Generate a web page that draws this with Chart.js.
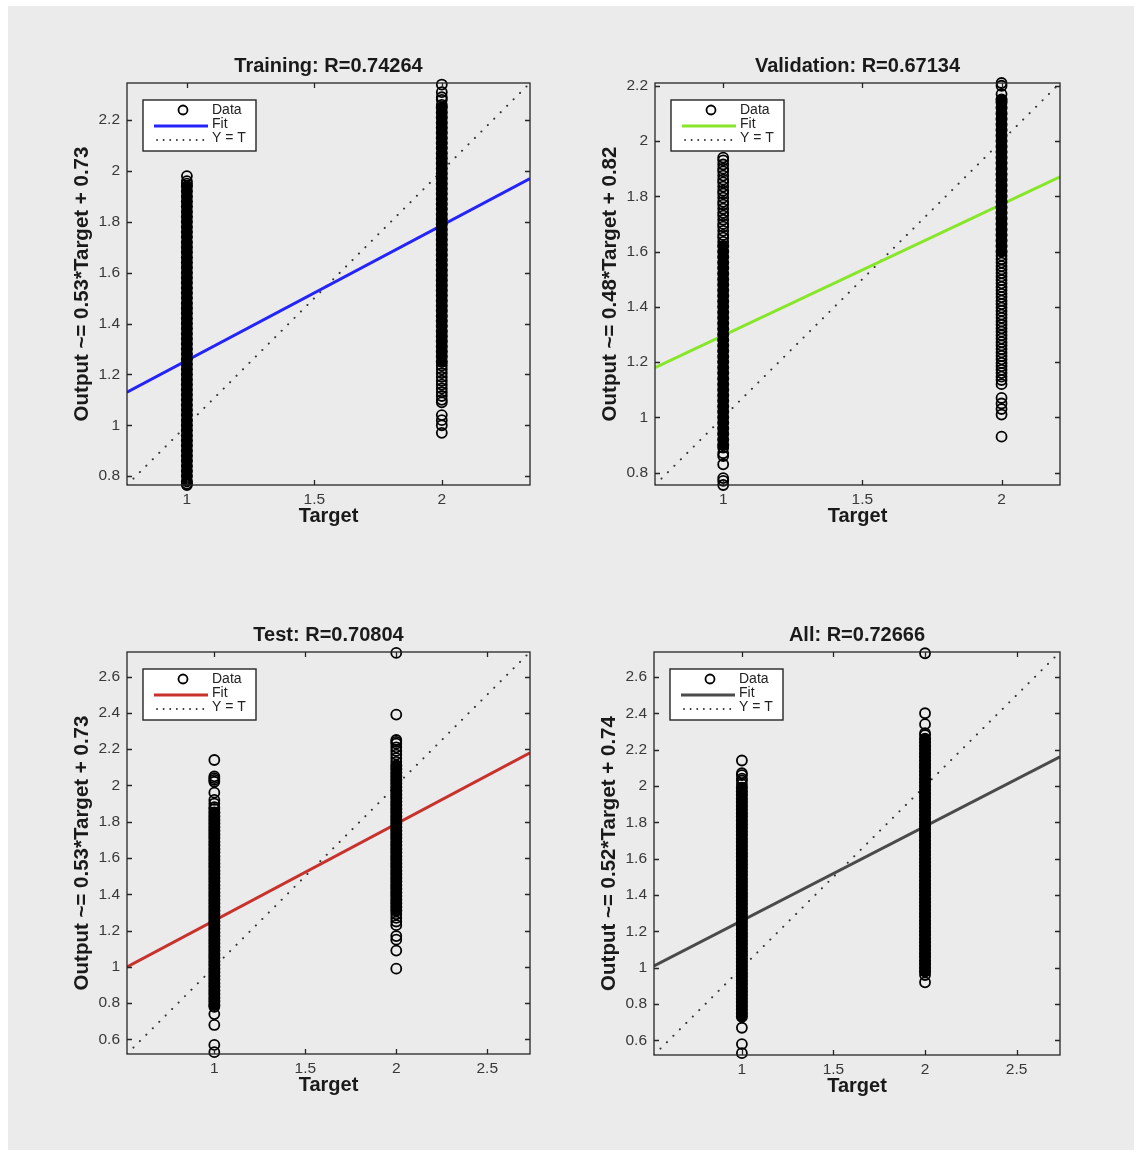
<!DOCTYPE html>
<html>
<head>
<meta charset="utf-8">
<script src="https://cdn.jsdelivr.net/npm/chart.js@4.4.0/dist/chart.umd.min.js"></script>
<style>
  body { margin: 0; background: #fff; }
  #page { position: relative; width: 1142px; height: 1156px; background: #fff; overflow: hidden; }
  #panel { position: absolute; left: 8px; top: 6px; width: 1126px; height: 1144px; background: #ebebeb; }
  canvas { position: absolute; }
</style>
</head>
<body>
<div id="page">
  <div id="panel"></div>
  <canvas id="c0"></canvas>
  <canvas id="c1"></canvas>
  <canvas id="c2"></canvas>
  <canvas id="c3"></canvas>
</div>
<script>
// targets (the two classes)
const targets = [1, 2];

// Training
const trainRange = [0.765, 2.346];
const trainXTicks = [1, 1.5, 2];
const trainYTicks = [0.8, 1, 1.2, 1.4, 1.6, 1.8, 2, 2.2];
const trainFit = [1.13, 1.97];
const trainDense1 = [0.78,0.80,0.82,0.84,0.86,0.88,0.90,0.92,0.94,0.96,0.98,1.00,1.02,1.04,1.06,1.08,1.10,1.12,1.14,1.16,
  1.18,1.20,1.22,1.24,1.26,1.28,1.30,1.32,1.34,1.36,1.38,1.40,1.42,1.44,1.46,1.48,1.50,1.52,1.54,1.56,
  1.58,1.60,1.62,1.64,1.66,1.68,1.70,1.72,1.74,1.76,1.78,1.80,1.82,1.84,1.86,1.88,1.90,1.92,1.94];
const trainLoose1 = [1.98, 1.96, 1.95, 0.77, 0.765];
const trainDense2 = [1.25,1.27,1.29,1.31,1.33,1.35,1.37,1.39,1.41,1.43,1.45,1.47,1.49,1.51,1.53,1.55,1.57,1.59,1.61,1.63,
  1.65,1.67,1.69,1.71,1.73,1.75,1.77,1.79,1.81,1.83,1.85,1.87,1.89,1.91,1.93,1.95,1.97,1.99,2.01,2.03,
  2.05,2.07,2.09,2.11,2.13,2.15,2.17,2.19,2.21,2.23,2.25];
const trainLoose2 = [2.34, 2.31, 2.29, 2.28, 2.26, 1.235, 1.22, 1.205, 1.19, 1.175, 1.16, 1.145, 1.13, 1.115, 1.10, 1.09,
  1.04, 1.02, 1.00, 0.97];

// Validation
const valRange = [0.755, 2.21];
const valXTicks = [1, 1.5, 2];
const valYTicks = [0.8, 1, 1.2, 1.4, 1.6, 1.8, 2, 2.2];
const valFit = [1.18, 1.87];
const valDense1 = [0.90,0.92,0.94,0.96,0.98,1.00,1.02,1.04,1.06,1.08,1.10,1.12,1.14,1.16,1.18,1.20,1.22,1.24,1.26,
  1.28,1.30,1.32,1.34,1.36,1.38,1.40,1.42,1.44,1.46,1.48,1.50,1.52,1.54,1.56,1.58,1.60,1.62];
const valLoose1 = [1.94, 1.93, 1.915, 1.90, 1.89, 1.875, 1.86, 1.85, 1.835, 1.82, 1.81, 1.795, 1.78, 1.77, 1.755,
  1.74, 1.73, 1.715, 1.70, 1.69, 1.675, 1.66, 1.65, 1.635, 0.89, 0.87, 0.86, 0.83, 0.78, 0.77, 0.755];
const valDense2 = [1.60,1.62,1.64,1.66,1.68,1.70,1.72,1.74,1.76,1.78,1.80,1.82,1.84,1.86,1.88,1.90,1.92,1.94,
  1.96,1.98,2.00,2.02,2.04,2.06,2.08,2.10,2.12,2.14,2.15];
const valLoose2 = [2.21, 2.20, 2.17, 1.585, 1.572, 1.56, 1.547, 1.535, 1.522, 1.51, 1.497, 1.485, 1.472, 1.46, 1.447,
  1.435, 1.422, 1.41, 1.397, 1.385, 1.372, 1.36, 1.347, 1.335, 1.322, 1.31, 1.297, 1.285, 1.272, 1.26, 1.247,
  1.235, 1.222, 1.21, 1.197, 1.185, 1.172, 1.16, 1.147, 1.135, 1.12, 1.07, 1.05, 1.03, 1.01, 0.93];

// Test
const testRange = [0.52, 2.735];
const testXTicks = [1, 1.5, 2, 2.5];
const testYTicks = [0.6, 0.8, 1, 1.2, 1.4, 1.6, 1.8, 2, 2.2, 2.4, 2.6];
const testFit = [1.00, 2.18];
const testDense1 = [0.79,0.81,0.83,0.85,0.87,0.89,0.91,0.93,0.95,0.97,0.99,1.01,1.03,1.05,1.07,1.09,1.11,1.13,1.15,
  1.17,1.19,1.21,1.23,1.25,1.27,1.29,1.31,1.33,1.35,1.37,1.39,1.41,1.43,1.45,1.47,1.49,1.51,1.53,1.55,1.57,
  1.59,1.61,1.63,1.65,1.67,1.69,1.71,1.73,1.75,1.77,1.79,1.81,1.83,1.85];
const testLoose1 = [2.14, 2.05, 2.04, 2.03, 2.02, 1.96, 1.92, 1.90, 1.88, 1.87, 0.78, 0.74, 0.68, 0.57, 0.53];
const testDense2 = [1.31,1.33,1.35,1.37,1.39,1.41,1.43,1.45,1.47,1.49,1.51,1.53,1.55,1.57,1.59,1.61,1.63,1.65,1.67,
  1.69,1.71,1.73,1.75,1.77,1.79,1.81,1.83,1.85,1.87,1.89,1.91,1.93,1.95,1.97,1.99,2.01,2.03,2.05,2.07,2.09,2.11];
const testLoose2 = [2.73, 2.39, 2.25, 2.24, 2.23, 2.21, 2.19, 2.17, 2.15, 2.13, 1.29, 1.27, 1.25, 1.23, 1.17, 1.15, 1.09, 0.99];

// All
const allRange = [0.52, 2.737];
const allXTicks = [1, 1.5, 2, 2.5];
const allYTicks = [0.6, 0.8, 1, 1.2, 1.4, 1.6, 1.8, 2, 2.2, 2.4, 2.6];
const allFit = [1.01, 2.16];
const allDense1 = [0.73,0.75,0.77,0.79,0.81,0.83,0.85,0.87,0.89,0.91,0.93,0.95,0.97,0.99,1.01,1.03,1.05,1.07,1.09,
  1.11,1.13,1.15,1.17,1.19,1.21,1.23,1.25,1.27,1.29,1.31,1.33,1.35,1.37,1.39,1.41,1.43,1.45,1.47,1.49,1.51,
  1.53,1.55,1.57,1.59,1.61,1.63,1.65,1.67,1.69,1.71,1.73,1.75,1.77,1.79,1.81,1.83,1.85,1.87,1.89,1.91,
  1.93,1.95,1.97,1.99];
const allLoose1 = [2.14, 2.07, 2.06, 2.04, 2.03, 2.01, 0.67, 0.58, 0.53];
const allDense2 = [0.98,1.00,1.02,1.04,1.06,1.08,1.10,1.12,1.14,1.16,1.18,1.20,1.22,1.24,1.26,1.28,1.30,1.32,1.34,
  1.36,1.38,1.40,1.42,1.44,1.46,1.48,1.50,1.52,1.54,1.56,1.58,1.60,1.62,1.64,1.66,1.68,1.70,1.72,1.74,1.76,
  1.78,1.80,1.82,1.84,1.86,1.88,1.90,1.92,1.94,1.96,1.98,2.00,2.02,2.04,2.06,2.08,2.10,2.12,2.14,2.16,
  2.18,2.20,2.22,2.24,2.26];
const allLoose2 = [2.73, 2.40, 2.34, 2.29, 2.28, 0.96, 0.92];

const FONT = '"Liberation Sans", Arial, Helvetica, sans-serif';

// plot boxes in page pixels: left, top, right, bottom
const panels = [
  { id: 'c0', title: 'Training: R=0.74264', ylab: 'Output ~= 0.53*Target + 0.73', fitColor: '#2424f8',
    range: trainRange, xt: trainXTicks, yt: trainYTicks, fit: trainFit,
    dense: [trainDense1, trainDense2], loose: [trainLoose1, trainLoose2], box: [127, 83, 530, 485] },
  { id: 'c1', title: 'Validation: R=0.67134', ylab: 'Output ~= 0.48*Target + 0.82', fitColor: '#88e62a',
    range: valRange, xt: valXTicks, yt: valYTicks, fit: valFit,
    dense: [valDense1, valDense2], loose: [valLoose1, valLoose2], box: [655, 83, 1060, 485] },
  { id: 'c2', title: 'Test: R=0.70804', ylab: 'Output ~= 0.53*Target + 0.73', fitColor: '#c8322c',
    range: testRange, xt: testXTicks, yt: testYTicks, fit: testFit,
    dense: [testDense1, testDense2], loose: [testLoose1, testLoose2], box: [127, 652, 530, 1054] },
  { id: 'c3', title: 'All: R=0.72666', ylab: 'Output ~= 0.52*Target + 0.74', fitColor: '#4a4a4a',
    range: allRange, xt: allXTicks, yt: allYTicks, fit: allFit,
    dense: [allDense1, allDense2], loose: [allLoose1, allLoose2], box: [654, 652, 1060, 1055] }
];

// MATLAB-ish frame: box, inward ticks, legend, title and axis labels
const matlabLook = {
  id: 'matlabLook',
  afterDatasetsDraw(chart, args, o) {
    const { ctx, chartArea: a, scales } = chart;
    ctx.save();
    ctx.strokeStyle = '#262626';
    ctx.lineWidth = 1.3;
    ctx.strokeRect(a.left, a.top, a.right - a.left, a.bottom - a.top);
    ctx.beginPath();
    scales.x.ticks.forEach(t => {
      const px = Math.round(scales.x.getPixelForValue(t.value)) + 0.5;
      ctx.moveTo(px, a.bottom); ctx.lineTo(px, a.bottom - 5);
      ctx.moveTo(px, a.top); ctx.lineTo(px, a.top + 5);
    });
    scales.y.ticks.forEach(t => {
      const py = Math.round(scales.y.getPixelForValue(t.value)) + 0.5;
      ctx.moveTo(a.left, py); ctx.lineTo(a.left + 5, py);
      ctx.moveTo(a.right, py); ctx.lineTo(a.right - 5, py);
    });
    ctx.stroke();

    // legend
    const lx = a.left + 16, ly = a.top + 17;
    ctx.fillStyle = '#fff';
    ctx.fillRect(lx, ly, 113, 51);
    ctx.lineWidth = 1.4;
    ctx.strokeStyle = '#262626';
    ctx.strokeRect(lx, ly, 113, 51);
    ctx.beginPath();
    ctx.arc(lx + 40, ly + 10, 4.5, 0, Math.PI * 2);
    ctx.lineWidth = 1.8; ctx.strokeStyle = '#000';
    ctx.stroke();
    ctx.beginPath();
    ctx.moveTo(lx + 11, ly + 26); ctx.lineTo(lx + 65, ly + 26);
    ctx.lineWidth = 3; ctx.strokeStyle = o.fitColor;
    ctx.stroke();
    ctx.beginPath();
    ctx.setLineDash([0.1, 6.5]); ctx.lineCap = 'round';
    ctx.moveTo(lx + 14, ly + 40); ctx.lineTo(lx + 62, ly + 40);
    ctx.lineWidth = 1.8; ctx.strokeStyle = '#333';
    ctx.stroke();
    ctx.setLineDash([]); ctx.lineCap = 'butt';
    ctx.fillStyle = '#222';
    ctx.font = '14px ' + FONT;
    ctx.textAlign = 'left'; ctx.textBaseline = 'middle';
    ctx.fillText('Data', lx + 69, ly + 10);
    ctx.fillText('Fit', lx + 69, ly + 24);
    ctx.fillText('Y = T', lx + 69, ly + 38);
    ctx.restore();
  },
  afterDraw(chart, args, o) {
    const { ctx, chartArea: a } = chart;
    const cx = (a.left + a.right) / 2;
    ctx.save();
    ctx.fillStyle = '#1a1a1a';
    ctx.font = 'bold 20px ' + FONT;
    ctx.textAlign = 'center'; ctx.textBaseline = 'middle';
    ctx.fillText(o.title, cx, a.top - 17);
    ctx.fillText('Target', cx, a.bottom + 31);
    ctx.font = 'bold 20.5px ' + FONT;
    ctx.translate(a.left - 45, (a.top + a.bottom) / 2);
    ctx.rotate(-Math.PI / 2);
    ctx.fillText(o.ylab, 0, 0);
    ctx.restore();
  }
};

function pts(arr, xv) {
  return arr.map(v => ({ x: xv, y: v }));
}

function makeChart(p) {
  const [l, t, r, b] = p.box;
  const cv = document.getElementById(p.id);
  cv.width = (r - l) + 95;
  cv.height = (b - t) + 100;
  cv.style.left = (l - 80) + 'px';
  cv.style.top = (t - 45) + 'px';

  const tickFont = { family: FONT, size: 15.5 };
  new Chart(cv, {
    type: 'scatter',
    data: {
      datasets: [
        {
          label: 'Data',
          data: pts(p.dense[0], targets[0]).concat(pts(p.dense[1], targets[1])),
          pointRadius: 5.3, pointBorderWidth: 1.5,
          pointBackgroundColor: '#000', pointBorderColor: '#000', clip: false
        },
        {
          label: 'Data',
          data: pts(p.loose[0], targets[0]).concat(pts(p.loose[1], targets[1])),
          pointRadius: 5, pointBorderWidth: 1.8,
          pointBackgroundColor: 'rgba(0,0,0,0)', pointBorderColor: '#000', clip: false
        },
        {
          label: 'Fit',
          data: [{ x: p.range[0], y: p.fit[0] }, { x: p.range[1], y: p.fit[1] }],
          showLine: true, borderColor: p.fitColor, borderWidth: 3, pointRadius: 0
        },
        {
          label: 'Y = T',
          data: [{ x: p.range[0], y: p.range[0] }, { x: p.range[1], y: p.range[1] }],
          showLine: true, borderColor: '#333', borderWidth: 2, borderDash: [0.1, 9],
          borderCapStyle: 'round', pointRadius: 0
        }
      ]
    },
    options: {
      responsive: false,
      animation: false,
      events: [],
      layout: { padding: { left: 30, top: 45, right: 15, bottom: 15 } },
      plugins: {
        legend: { display: false },
        tooltip: { enabled: false },
        matlabLook: { title: p.title, ylab: p.ylab, fitColor: p.fitColor }
      },
      scales: {
        x: {
          type: 'linear', min: p.range[0], max: p.range[1],
          grid: { display: false, drawTicks: false }, border: { display: false },
          afterBuildTicks: s => { s.ticks = p.xt.map(v => ({ value: v })); },
          afterFit: s => { s.height = 40; },
          ticks: { padding: 5, font: tickFont, color: '#383838', maxRotation: 0, autoSkip: false,
                   callback: v => String(v) }
        },
        y: {
          type: 'linear', min: p.range[0], max: p.range[1],
          grid: { display: false, drawTicks: false }, border: { display: false },
          afterBuildTicks: s => { s.ticks = p.yt.map(v => ({ value: v })); },
          afterFit: s => { s.width = 50; },
          ticks: { padding: 7, font: tickFont, color: '#383838', autoSkip: false,
                   callback: v => String(v) }
        }
      }
    },
    plugins: [matlabLook]
  });
}

panels.forEach(makeChart);
</script>
</body>
</html>
